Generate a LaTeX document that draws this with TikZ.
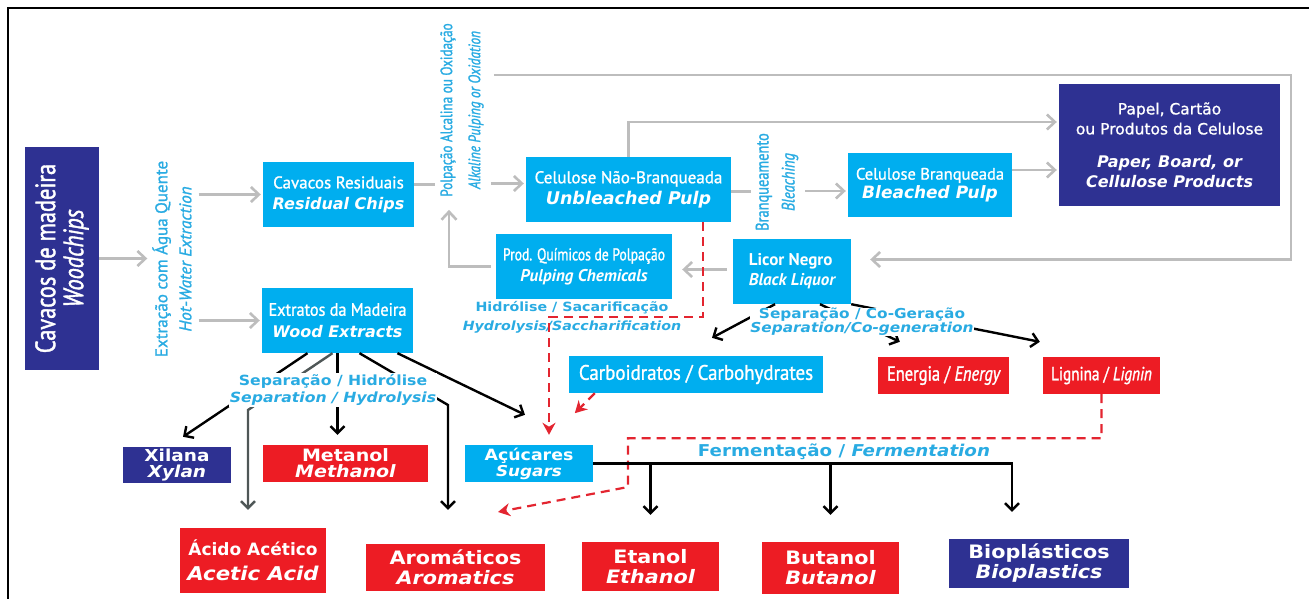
\documentclass[tikz,border=0pt]{standalone}
\usepackage{fontspec}
\setmainfont{PT Sans}
\newfontfamily\medfont[FakeBold=1.2]{PT Sans}
\newfontfamily\condfont[FakeStretch=0.8,FakeBold=1.4]{PT Sans}
\newfontfamily\semicond[FakeStretch=0.9,FakeBold=1.2]{PT Sans}
\newfontfamily\widefont{DejaVu Sans}
\newfontfamily\widemed[FakeBold=1]{DejaVu Sans}
\newfontfamily\wideXfont[FakeStretch=1.12]{DejaVu Sans}
\usetikzlibrary{arrows.meta,calc}

\definecolor{boxcyan}{HTML}{00AEEF}
\definecolor{navy}{HTML}{2E3192}
\definecolor{prodred}{HTML}{ED1C24}
\definecolor{labcyan}{HTML}{29ABE2}
\definecolor{arrowgray}{HTML}{BDBDBD}
\definecolor{darkarrow}{HTML}{4F5757}
\definecolor{dashred}{HTML}{E32530}
\newcommand{\fsz}[1]{\fontsize{#1}{#1}\selectfont}

\begin{document}
\begin{tikzpicture}[x=1pt, y=-1pt,
  lines/.style={font=\fontsize{12}{#1}\selectfont},
  box/.style={fill=boxcyan, text=white, inner sep=0pt, align=center},
  navybox/.style={box, fill=navy},
  redbox/.style={box, fill=prodred},
  lab/.style={text=labcyan, inner sep=1pt, align=center},
  gline/.style={draw=arrowgray, line width=2.6pt},
  garrow/.style={gline, shorten >=2pt, -{Straight Barb[length=8pt,width=15pt]}},
  barrow/.style={line width=2.4pt, -{Straight Barb[length=7pt,width=14pt]}},
  rdash/.style={draw=dashred, line width=2.2pt, dash pattern=on 9pt off 6pt},
  rarrow/.style={rdash, -{Stealth[length=12pt,width=13pt]}}]

  \useasboundingbox (0,0) rectangle (1309,599);
  \draw[line width=1.6pt] (8,599) -- (8,8) -- (1309,8);

  % boxes
  \node[navybox, rotate=90, minimum width=223pt, minimum height=74pt, lines=28] (woodchips) at (62,258.5)
    {\condfont\fsz{28}Cavacos de madeira\\\condfont\itshape\fsz{28}Woodchips};
  \node[box, minimum width=151pt, minimum height=65pt, lines=21] (chips) at (338.5,194.5)
    {\medfont\fsz{17}Cavacos Residuais\\\widefont\bfseries\itshape\fsz{16}Residual Chips};
  \node[box, minimum width=151pt, minimum height=65pt, lines=22] (extracts) at (337.5,320.5)
    {\semicond\fsz{18}Extratos da Madeira\\\widefont\bfseries\itshape\fsz{16}Wood Extracts};
  \node[box, minimum width=205pt, minimum height=65pt, lines=21] (unbleached) at (628.5,189.5)
    {\medfont\fsz{17}Celulose Não-Branqueada\\\widefont\bfseries\itshape\fsz{17.5}Unbleached Pulp};
  \node[box, minimum width=164pt, minimum height=64pt, lines=19] (bleached) at (930,185)
    {\medfont\fsz{16.5}Celulose Branqueada\\\widefont\bfseries\itshape\fsz{17}Bleached Pulp};
  \node[navybox, minimum width=221pt, minimum height=122pt, lines=20] (paper) at (1169.5,145)
    {\widemed\fsz{15.5}Papel, Cartão\\\widemed\fsz{15.5}ou Produtos da Celulose\\[13pt]
     \widefont\bfseries\itshape\fsz{16}Paper, Board, or\\\widefont\bfseries\itshape\fsz{16}Cellulose Products};
  \node[box, minimum width=176pt, minimum height=65pt, lines=21] (chem) at (584,266.5)
    {\condfont\fsz{17}Prod. Químicos de Polpação\\\bfseries\itshape\fsz{17}Pulping Chemicals};
  \node[box, minimum width=118pt, minimum height=65pt, lines=20, align=left] (liquor) at (792,271.5)
    {\bfseries\fsz{17}Licor Negro\\\bfseries\itshape\fsz{17}Black Liquor};
  \node[box, minimum width=254pt, minimum height=37pt] (carbo) at (696,374.5)
    {\semicond\fsz{21}Carboidratos / Carbohydrates};
  \node[redbox, minimum width=131pt, minimum height=37pt] (energy) at (943.5,375.5)
    {\condfont\fsz{20.5}Energia / \itshape Energy};
  \node[redbox, minimum width=117pt, minimum height=37pt] (lignin) at (1101.5,375.5)
    {\condfont\fsz{19}Lignina / \itshape Lignin};
  \node[box, minimum width=128pt, minimum height=37pt, lines=16] (sugars) at (529,463.5)
    {\wideXfont\bfseries\fsz{15.5}Açúcares\\\wideXfont\bfseries\itshape\fsz{15}Sugars};
  \node[navybox, minimum width=108pt, minimum height=36pt, lines=16] (xylan) at (177,465)
    {\wideXfont\bfseries\fsz{16.5}Xilana\\\wideXfont\bfseries\itshape\fsz{16.5}Xylan};
  \node[redbox, minimum width=165pt, minimum height=37pt, lines=16] (methanol) at (345.5,463.5)
    {\wideXfont\bfseries\fsz{17}Metanol\\\wideXfont\bfseries\itshape\fsz{17}Methanol};
  \node[redbox, minimum width=146pt, minimum height=65pt, lines=25] (acetic) at (253,560.5)
    {\widefont\bfseries\fsz{17}Ácido Acético\\\wideXfont\bfseries\itshape\fsz{19}Acetic Acid};
  \node[redbox, minimum width=179pt, minimum height=47pt, lines=20] (aromatics) at (455.5,567.5)
    {\wideXfont\bfseries\fsz{18.5}Aromáticos\\\wideXfont\bfseries\itshape\fsz{18.5}Aromatics};
  \node[redbox, minimum width=137pt, minimum height=49pt, lines=20] (ethanol) at (650.5,566.5)
    {\wideXfont\bfseries\fsz{18.5}Etanol\\\wideXfont\bfseries\itshape\fsz{18.5}Ethanol};
  \node[redbox, minimum width=137pt, minimum height=52pt, lines=20] (butanol) at (830.5,568)
    {\wideXfont\bfseries\fsz{18.5}Butanol\\\wideXfont\bfseries\itshape\fsz{18.5}Butanol};
  \node[navybox, minimum width=180pt, minimum height=49pt, lines=20] (bioplastics) at (1039,563.5)
    {\wideXfont\bfseries\fsz{18.5}Bioplásticos\\\wideXfont\bfseries\itshape\fsz{18.5}Bioplastics};

  % process labels
  \node[lab, rotate=90, lines=24] (hotwater) at (172,259)
    {\medfont\fsz{17}Extração com Água Quente\\\medfont\itshape\fsz{17}Hot-Water Extraction};
  \node[lab, rotate=90, lines=28] (pulp) at (462,110)
    {\condfont\fsz{16.5}Polpação Alcalina ou Oxidação\\\condfont\itshape\fsz{16.5}Alkaline Pulping or Oxidation};
  \node[lab, rotate=90, lines=26] (bleach) at (777,182)
    {\condfont\fsz{18}Branqueamento\\\condfont\itshape\fsz{18}Bleaching};
  \node[lab, lines=19] (hydsac) at (572,317)
    {\wideXfont\bfseries\fsz{12.7}Hidrólise / Sacarificação\\\wideXfont\bfseries\itshape\fsz{12.7}Hydrolysis/Saccharification};
  \node[lab] (ferment) at (844,452)
    {\wideXfont\bfseries\fsz{16.3}Fermentação / \itshape Fermentation};

  % gray flow
  \draw[garrow, shorten >=4pt] (woodchips.south) -- (woodchips.south -| hotwater.north);
  \draw[garrow, shorten <=6pt] (hotwater.south |- chips.west) -- (chips.west);
  \draw[garrow, shorten <=6pt] (hotwater.south |- extracts.west) -- (extracts.west);
  \draw[gline, shorten >=4pt] ([yshift=10pt]chips.east) -- ([yshift=10pt]chips.east -| pulp.north);
  \draw[garrow, shorten <=6pt] ([yshift=6pt]unbleached.west -| pulp.south) -- ([yshift=6pt]unbleached.west);
  \draw[garrow] (unbleached.north) |- ([yshift=23pt]paper.west);
  \draw[gline, shorten >=4pt] ([yshift=-2pt]unbleached.east) -- ([yshift=-2pt]unbleached.east -| bleach.north);
  \draw[garrow, shorten <=6pt] ([yshift=-6pt]bleached.west -| bleach.south) -- ([yshift=-6pt]bleached.west);
  \draw[garrow] ([yshift=15pt]bleached.east) -- ([yshift=15pt]bleached.east -| paper.west);
  \draw[garrow, shorten <=6pt, shorten >=10pt] ([yshift=2pt]liquor.west) -- ([yshift=2pt]liquor.west -| chem.east);
  \draw[garrow] ([xshift=-5pt]chem.west) -| ([xshift=-13pt,yshift=-10pt]pulp.west);
  \coordinate (loopNE) at (1291,75);
  \draw[garrow, shorten <=9pt] (pulp.south |- loopNE) -| ([yshift=12pt]liquor.east -| loopNE)
    -- ([xshift=17pt,yshift=12pt]liquor.east);

  % red dashed routes
  \draw[rarrow, shorten >=10pt] ([xshift=74.5pt]unbleached.south) |- (hydsac.center) -| ([xshift=20pt]sugars.north);
  \draw[rarrow] ([xshift=26pt]carbo.south west) -- ([xshift=6pt,yshift=-20pt]carbo.south west);
  \coordinate (ligbend) at (628,487);
  \coordinate (ligtip) at (498,512);
  \draw[rarrow] (lignin.south) -- ++(0,44) -| (ligbend) -- (ligtip);

  % black liquor split
  \draw[barrow] ([xshift=-17pt]liquor.south) -- ([xshift=16pt,yshift=18pt]carbo.north);
  \draw[barrow] ([xshift=28pt]liquor.south) -- ([xshift=22pt,yshift=15pt]energy.north west);
  \draw[barrow] (liquor.south east) -- ([xshift=-3pt,yshift=15pt]lignin.north west);
  \node[lab, fill=white, inner sep=0pt, lines=12] (sepcogen) at (862,322)
    {\wideXfont\bfseries\fsz{13.7}Separação / Co-Geração\\\wideXfont\bfseries\itshape\fsz{13.7}Separation/Co-generation};

  % wood extracts split
  \coordinate (acbend) at (248,410);
  \coordinate (arbend) at (448,405);
  \draw[barrow] ([xshift=-30pt]extracts.south) -- ([xshift=6pt,yshift=10pt]xylan.north);
  \draw[barrow, draw=darkarrow] ([xshift=-5pt]extracts.south) -- (acbend) -- ([yshift=18pt]acetic.north -| acbend);
  \draw[barrow] (extracts.south) -- ([yshift=10pt]methanol.north -| extracts.south);
  \draw[barrow] ([xshift=22pt]extracts.south) -- (arbend) -- ([yshift=34pt]aromatics.north -| arbend);
  \draw[barrow] ([xshift=60pt]extracts.south) -- ([xshift=-4pt,yshift=30pt]sugars.north);
  \node[lab, fill=white, inner sep=1pt, lines=17] (sephyd) at (333,390)
    {\wideXfont\bfseries\fsz{14}Separação / Hidrólise\\\wideXfont\bfseries\itshape\fsz{14}Separation / Hydrolysis};

  % fermentation
  \coordinate (fermend) at (1012,463.5);
  \draw[barrow] (sugars.east) -- (fermend) -- ([yshift=27pt]bioplastics.north -| fermend);
  \foreach \prod in {ethanol,butanol}
    \draw[barrow] (sugars.east -| \prod.north) -- ([yshift=27pt]\prod.north);
\end{tikzpicture}
\end{document}
